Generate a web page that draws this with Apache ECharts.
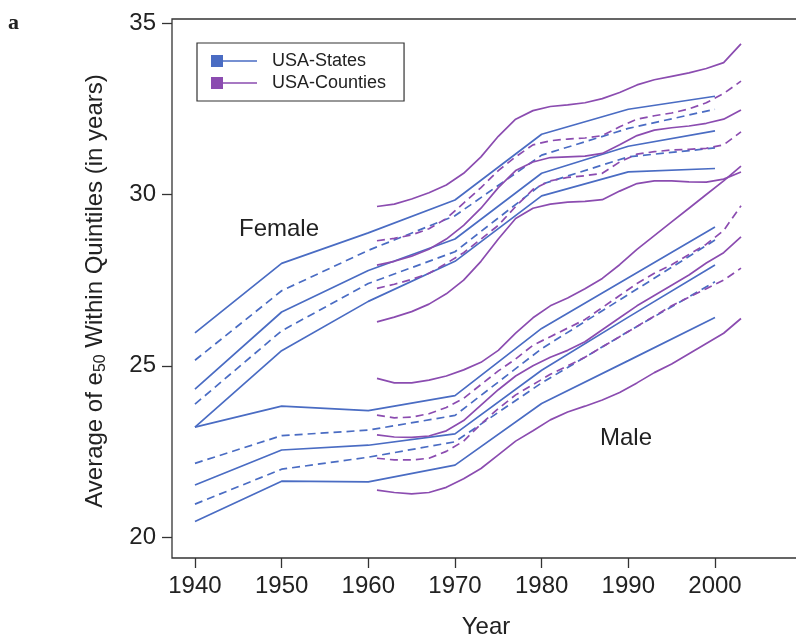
<!DOCTYPE html>
<html>
<head>
<meta charset="utf-8">
<script src="https://cdn.jsdelivr.net/npm/echarts@6/dist/echarts.min.js"></script>
<style>
html,body{margin:0;padding:0;background:#fff;}
#chart{width:796px;height:639px;}
</style>
</head>
<body>
<div id="chart"></div>
<script>
// ---- tick labels ----
const xTicks = [1940, 1950, 1960, 1970, 1980, 1990, 2000];
const yTicks = [20, 25, 30, 35];

// ---- USA-States (decennial) ----
const stateYears = [1940, 1950, 1960, 1970, 1980, 1990, 2000];
const stFemaleQ5 = [25.96, 27.99, 28.88, 29.84, 31.76, 32.49, 32.87];
const stFemaleQ4 = [25.16, 27.19, 28.37, 29.38, 31.15, 31.93, 32.49];
const stFemaleQ3 = [24.32, 26.57, 27.78, 28.70, 30.62, 31.41, 31.86];
const stFemaleQ2 = [23.88, 26.02, 27.40, 28.33, 30.30, 31.10, 31.36];
const stFemaleQ1 = [23.21, 25.44, 26.88, 28.05, 29.96, 30.66, 30.76];
const stMaleQ5 = [23.21, 23.82, 23.69, 24.13, 26.09, 27.57, 29.05];
const stMaleQ4 = [22.15, 22.96, 23.12, 23.55, 25.50, 27.08, 28.67];
const stMaleQ3 = [21.52, 22.54, 22.68, 23.01, 24.87, 26.42, 27.94];
const stMaleQ2 = [20.96, 21.98, 22.33, 22.78, 24.50, 26.00, 27.45];
const stMaleQ1 = [20.45, 21.63, 21.61, 22.10, 23.90, 25.15, 26.41];

// ---- USA-Counties (annual, read every second year) ----
const countyYears = [1961, 1963, 1965, 1967, 1969, 1971, 1973, 1975, 1977, 1979, 1981,
                     1983, 1985, 1987, 1989, 1991, 1993, 1995, 1997, 1999, 2001, 2003];
const coFemaleQ5 = [29.65, 29.72, 29.87, 30.05, 30.28, 30.62, 31.10, 31.70, 32.20, 32.45, 32.57, 32.62, 32.68, 32.80, 32.98, 33.20, 33.35, 33.45, 33.55, 33.68, 33.85, 34.40];
const coFemaleQ4 = [28.65, 28.72, 28.82, 29.00, 29.30, 29.75, 30.20, 30.70, 31.10, 31.45, 31.57, 31.62, 31.65, 31.72, 31.98, 32.20, 32.30, 32.38, 32.50, 32.68, 32.95, 33.31];
const coFemaleQ3 = [27.94, 28.05, 28.20, 28.40, 28.70, 29.10, 29.60, 30.20, 30.70, 30.95, 31.08, 31.10, 31.12, 31.20, 31.45, 31.72, 31.88, 31.95, 32.00, 32.08, 32.20, 32.47];
const coFemaleQ2 = [27.26, 27.38, 27.52, 27.70, 27.99, 28.30, 28.70, 29.10, 29.65, 30.15, 30.40, 30.50, 30.55, 30.62, 30.95, 31.18, 31.25, 31.30, 31.32, 31.35, 31.45, 31.83];
const coFemaleQ1 = [26.28, 26.42, 26.58, 26.80, 27.10, 27.50, 28.05, 28.70, 29.30, 29.60, 29.72, 29.78, 29.80, 29.85, 30.10, 30.32, 30.40, 30.40, 30.37, 30.36, 30.45, 30.66];
const coMaleQ5 = [24.63, 24.50, 24.50, 24.58, 24.70, 24.88, 25.10, 25.45, 25.95, 26.40, 26.75, 26.98, 27.25, 27.55, 27.95, 28.40, 28.80, 29.20, 29.60, 30.00, 30.40, 30.83];
const coMaleQ4 = [23.56, 23.48, 23.50, 23.60, 23.78, 24.05, 24.45, 24.85, 25.20, 25.60, 25.85, 26.10, 26.35, 26.70, 27.05, 27.40, 27.70, 27.95, 28.25, 28.55, 28.95, 29.67];
const coMaleQ3 = [22.98, 22.92, 22.91, 22.95, 23.10, 23.40, 23.85, 24.30, 24.70, 25.00, 25.25, 25.45, 25.70, 26.05, 26.40, 26.75, 27.05, 27.35, 27.65, 28.00, 28.30, 28.76];
const coMaleQ2 = [22.30, 22.25, 22.25, 22.30, 22.50, 22.80, 23.30, 23.75, 24.15, 24.45, 24.75, 25.00, 25.25, 25.55, 25.85, 26.15, 26.45, 26.75, 27.00, 27.25, 27.50, 27.85];
const coMaleQ1 = [21.37, 21.30, 21.26, 21.30, 21.45, 21.70, 22.00, 22.40, 22.80, 23.10, 23.42, 23.65, 23.82, 24.00, 24.22, 24.50, 24.80, 25.05, 25.35, 25.65, 25.95, 26.38];

const BLUE = '#4a6cc3';
const PURPLE = '#8b4cb0';
const FONT = '"Liberation Sans", Arial, Helvetica, sans-serif';

function pairs(xs, ys) { return xs.map((x, i) => [x, ys[i]]); }

function mk(name, color, xs, ys, dashed) {
  return {
    name: name,
    type: 'line',
    data: pairs(xs, ys),
    showSymbol: false,
    symbol: 'none',
    silent: true,
    color: color,
    lineStyle: { color: color, width: 1.7, type: dashed ? [8, 5] : 'solid' },
    z: 3
  };
}

const S = 'USA-States', C = 'USA-Counties';
const series = [
  mk(S, BLUE, stateYears, stFemaleQ5, false),
  mk(S, BLUE, stateYears, stFemaleQ4, true),
  mk(S, BLUE, stateYears, stFemaleQ3, false),
  mk(S, BLUE, stateYears, stFemaleQ2, true),
  mk(S, BLUE, stateYears, stFemaleQ1, false),
  mk(S, BLUE, stateYears, stMaleQ5, false),
  mk(S, BLUE, stateYears, stMaleQ4, true),
  mk(S, BLUE, stateYears, stMaleQ3, false),
  mk(S, BLUE, stateYears, stMaleQ2, true),
  mk(S, BLUE, stateYears, stMaleQ1, false),
  mk(C, PURPLE, countyYears, coFemaleQ5, false),
  mk(C, PURPLE, countyYears, coFemaleQ4, true),
  mk(C, PURPLE, countyYears, coFemaleQ3, false),
  mk(C, PURPLE, countyYears, coFemaleQ2, true),
  mk(C, PURPLE, countyYears, coFemaleQ1, false),
  mk(C, PURPLE, countyYears, coMaleQ5, false),
  mk(C, PURPLE, countyYears, coMaleQ4, true),
  mk(C, PURPLE, countyYears, coMaleQ3, false),
  mk(C, PURPLE, countyYears, coMaleQ2, true),
  mk(C, PURPLE, countyYears, coMaleQ1, false)
];

const legendIcon = 'path://M0,0H12V12H0Z M12,5.2H46V6.8H12Z';

const chart = echarts.init(document.getElementById('chart'), null, { renderer: 'canvas' });
chart.setOption({
  animation: false,
  backgroundColor: '#fff',
  textStyle: { fontFamily: FONT },
  grid: {
    show: true, left: 172, top: 19, right: -6, bottom: 81,
    outerBoundsMode: 'none', containLabel: false,
    borderColor: '#333', borderWidth: 1.3, backgroundColor: 'transparent'
  },
  legend: {
    orient: 'vertical',
    left: 197, top: 43,
    padding: [9, 18, 9, 14],
    itemGap: 4,
    itemWidth: 46, itemHeight: 12,
    borderColor: '#333', borderWidth: 1.2,
    backgroundColor: '#fff',
    selectedMode: false,
    textStyle: { fontSize: 18, color: '#222', fontFamily: FONT, padding: [0, 0, 0, 10] },
    data: [
      { name: S, icon: legendIcon, itemStyle: { color: BLUE } },
      { name: C, icon: legendIcon, itemStyle: { color: PURPLE } }
    ]
  },
  xAxis: {
    type: 'value',
    min: 1937.35, max: 2010.04,
    axisLine: { show: false },
    splitLine: { show: false },
    axisTick: { show: true, inside: false, length: 10, customValues: xTicks, lineStyle: { color: '#333', width: 1.3 } },
    axisLabel: { customValues: xTicks, fontSize: 24, color: '#222', margin: 16, fontFamily: FONT, formatter: v => String(v) }
  },
  yAxis: {
    type: 'value',
    min: 19.387, max: 35.125,
    axisLine: { show: false },
    splitLine: { show: false },
    axisTick: { show: true, inside: false, length: 10, customValues: yTicks, lineStyle: { color: '#333', width: 1.3 } },
    axisLabel: { customValues: yTicks, fontSize: 24, color: '#222', margin: 16, fontFamily: FONT, formatter: v => String(v) }
  },
  graphic: [
    { type: 'text', left: 8, top: 12, style: { text: 'a', font: 'bold 22px "Liberation Serif", "DejaVu Serif", serif', fill: '#222' } },
    { type: 'text', x: 279, y: 217, style: { text: 'Female', font: '24px ' + FONT, fill: '#222', align: 'center', verticalAlign: 'top' } },
    { type: 'text', x: 626, y: 426, style: { text: 'Male', font: '24px ' + FONT, fill: '#222', align: 'center', verticalAlign: 'top' } },
    { type: 'text', x: 486, y: 615, style: { text: 'Year', font: '24px ' + FONT, fill: '#222', align: 'center', verticalAlign: 'top' } },
    {
      type: 'text', x: 95, y: 291, rotation: Math.PI / 2,
      style: {
        text: 'Average of e{sub|50} Within Quintiles (in years)',
        font: '24px ' + FONT, fill: '#222', align: 'center', verticalAlign: 'middle',
        rich: { sub: { fontSize: 16, fontFamily: FONT, fill: '#222', padding: [12, 0, 0, 0] } }
      }
    }
  ],
  series: series
});
</script>
</body>
</html>
